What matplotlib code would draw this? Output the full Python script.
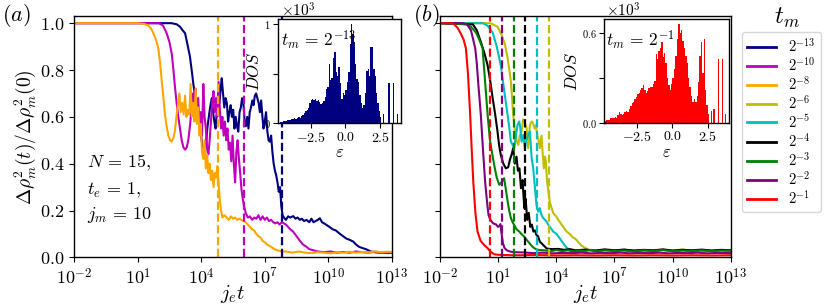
import numpy as np
import matplotlib
matplotlib.use("Agg")
import matplotlib.pyplot as plt
from matplotlib.lines import Line2D
from matplotlib.ticker import FixedLocator, FixedFormatter, NullLocator

plt.rcParams['mathtext.fontset'] = 'cm'
plt.rcParams['font.family'] = 'serif'
plt.rcParams['font.serif'] = ['cmr10', 'DejaVu Serif']
plt.rcParams['axes.formatter.use_mathtext'] = True
plt.rcParams['axes.linewidth'] = 1.0

# t_m = 2**e for every series, legend order
tm_exp = [-13, -10, -8, -6, -5, -4, -3, -2, -1]
colors = ['navy', 'm', 'orange', 'y', 'c', 'k', 'g', 'purple', 'r']

# ---- panel (a): log10(j_e t) and normalised variance ----
lt_13 = [-2.0, 2.6, 2.85, 3.0, 3.12, 3.24, 3.35, 3.47, 3.55, 3.63,
         3.71, 3.79, 3.86, 3.93, 4.0, 4.06, 4.12, 4.18, 4.24, 4.3,
         4.36, 4.42, 4.5, 4.56, 4.62, 4.68, 4.74, 4.8, 4.86, 4.92,
         4.97, 5.03, 5.09, 5.15, 5.21, 5.27, 5.33, 5.39, 5.45, 5.51,
         5.57, 5.63, 5.69, 5.75, 5.81, 5.87, 5.93, 5.99, 6.05, 6.11,
         6.17, 6.23, 6.29, 6.35, 6.41, 6.47, 6.53, 6.59, 6.65, 6.71,
         6.77, 6.83, 6.89, 6.94, 7.0, 7.06, 7.12, 7.18, 7.24, 7.3,
         7.36, 7.42, 7.48, 7.54, 7.6, 7.66, 7.72, 7.78, 7.84, 7.9,
         8.0, 8.1, 8.2, 8.34, 8.45, 8.55, 8.65, 8.75, 8.85, 8.97,
         9.1, 9.2, 9.3, 9.4, 9.5, 9.6, 9.7, 9.8, 9.92, 10.05,
         10.2, 10.35, 10.55, 10.7, 10.85, 11.0, 11.18, 11.3, 11.45, 11.6,
         11.8, 12.0, 12.2, 12.4, 12.6, 12.8, 13.0]
v_13 = [1.0, 1.0, 0.995, 0.985, 0.97, 0.957, 0.91, 0.857, 0.80, 0.74,
        0.69, 0.64, 0.60, 0.565, 0.52, 0.47, 0.44, 0.44, 0.50, 0.56,
        0.60, 0.64, 0.68, 0.62, 0.58, 0.55, 0.63, 0.70, 0.66, 0.72,
        0.765, 0.70, 0.64, 0.68, 0.66, 0.58, 0.62, 0.65, 0.60, 0.63,
        0.55, 0.60, 0.56, 0.537, 0.62, 0.64, 0.68, 0.66, 0.58, 0.56,
        0.60, 0.55, 0.62, 0.64, 0.67, 0.65, 0.69, 0.70, 0.68, 0.66,
        0.62, 0.67, 0.60, 0.55, 0.58, 0.62, 0.54, 0.50, 0.494, 0.52,
        0.45, 0.40, 0.37, 0.35, 0.32, 0.28, 0.30, 0.22, 0.18, 0.17,
        0.16, 0.175, 0.17, 0.176, 0.165, 0.17, 0.16, 0.165, 0.155, 0.16,
        0.15, 0.165, 0.15, 0.155, 0.16, 0.167, 0.15, 0.145, 0.138, 0.13,
        0.12, 0.115, 0.10, 0.09, 0.08, 0.075, 0.067, 0.055, 0.045, 0.04,
        0.034, 0.025, 0.022, 0.02, 0.02, 0.018, 0.02]

lt_10 = [-2.0, 2.0, 2.2, 2.37, 2.5, 2.61, 2.69, 2.76, 2.84, 2.92,
         3.0, 3.08, 3.16, 3.24, 3.32, 3.39, 3.47, 3.55, 3.62, 3.68,
         3.74, 3.8, 3.86, 3.92, 3.98, 4.04, 4.1, 4.16, 4.22, 4.28,
         4.34, 4.4, 4.46, 4.52, 4.58, 4.64, 4.7, 4.76, 4.82, 4.88,
         4.94, 5.0, 5.06, 5.12, 5.18, 5.24, 5.3, 5.36, 5.42, 5.48,
         5.54, 5.6, 5.66, 5.72, 5.78, 5.84, 5.9, 5.96, 6.02, 6.1,
         6.2, 6.3, 6.4, 6.5, 6.6, 6.7, 6.8, 6.9, 7.0, 7.1,
         7.2, 7.3, 7.4, 7.5, 7.6, 7.7, 7.8, 7.9, 8.0, 8.1,
         8.2, 8.34, 8.5, 8.66, 8.8, 8.97, 9.1, 9.3, 9.5, 9.8,
         10.1, 10.4, 10.7, 11.0, 11.3, 11.6, 11.9, 12.2, 12.5, 12.8,
         13.0]
v_10 = [1.0, 1.0, 0.99, 0.957, 0.92, 0.87, 0.80, 0.73, 0.66, 0.60,
        0.55, 0.50, 0.47, 0.46, 0.47, 0.50, 0.56, 0.64, 0.70, 0.66,
        0.72, 0.60, 0.68, 0.56, 0.62, 0.52, 0.74, 0.60, 0.55, 0.47,
        0.44, 0.50, 0.58, 0.66, 0.71, 0.62, 0.68, 0.60, 0.75, 0.63,
        0.55, 0.60, 0.52, 0.58, 0.50, 0.55, 0.46, 0.49, 0.41, 0.52,
        0.40, 0.32, 0.45, 0.50, 0.42, 0.36, 0.29, 0.25, 0.22, 0.19,
        0.17, 0.175, 0.16, 0.17, 0.165, 0.18, 0.16, 0.175, 0.16, 0.17,
        0.155, 0.16, 0.15, 0.145, 0.15, 0.14, 0.15, 0.145, 0.14, 0.13,
        0.12, 0.11, 0.09, 0.07, 0.055, 0.045, 0.035, 0.03, 0.025, 0.022,
        0.025, 0.02, 0.023, 0.02, 0.025, 0.022, 0.02, 0.024, 0.021, 0.02,
        0.022]

lt_8 = [-2.0, 1.0, 1.3, 1.5, 1.65, 1.8, 1.9, 1.98, 2.06, 2.14,
        2.22, 2.29, 2.37, 2.45, 2.53, 2.61, 2.69, 2.76, 2.83, 2.9,
        2.97, 3.03, 3.1, 3.17, 3.24, 3.3, 3.37, 3.44, 3.5, 3.56,
        3.62, 3.68, 3.74, 3.8, 3.86, 3.92, 3.98, 4.04, 4.1, 4.16,
        4.22, 4.28, 4.34, 4.4, 4.46, 4.52, 4.58, 4.64, 4.7, 4.76,
        4.82, 4.88, 4.94, 5.0, 5.1, 5.2, 5.3, 5.4, 5.5, 5.6,
        5.7, 5.8, 5.9, 6.0, 6.1, 6.2, 6.3, 6.4, 6.5, 6.6,
        6.7, 6.8, 6.9, 7.0, 7.1, 7.2, 7.3, 7.45, 7.6, 7.8,
        8.0, 8.3, 8.6, 8.9, 9.2, 9.5, 9.8, 10.1, 10.4, 10.7,
        11.0, 11.3, 11.6, 11.9, 12.2, 12.5, 12.8, 13.0]
v_8 = [1.0, 1.0, 0.997, 0.99, 0.975, 0.945, 0.92, 0.89, 0.83, 0.75,
       0.68, 0.61, 0.56, 0.52, 0.50, 0.495, 0.51, 0.54, 0.60, 0.65,
       0.70, 0.62, 0.66, 0.61, 0.69, 0.60, 0.63, 0.61, 0.74, 0.60,
       0.66, 0.58, 0.72, 0.57, 0.64, 0.52, 0.57, 0.45, 0.42, 0.50,
       0.38, 0.44, 0.36, 0.40, 0.33, 0.37, 0.30, 0.36, 0.34, 0.39,
       0.32, 0.24, 0.20, 0.17, 0.18, 0.17, 0.16, 0.175, 0.165, 0.17,
       0.16, 0.165, 0.16, 0.155, 0.15, 0.14, 0.13, 0.12, 0.115, 0.10,
       0.09, 0.085, 0.07, 0.065, 0.055, 0.05, 0.045, 0.035, 0.03, 0.025,
       0.025, 0.02, 0.025, 0.02, 0.018, 0.022, 0.02, 0.017, 0.022, 0.02,
       0.024, 0.02, 0.023, 0.021, 0.025, 0.022, 0.024, 0.023]

# ---- panel (b) ----
lt_6 = [-2.0, 0.6, 0.97, 1.18, 1.35, 1.49, 1.58, 1.66, 1.78, 1.87,
        1.95, 2.04, 2.12, 2.21, 2.29, 2.36, 2.47, 2.55, 2.64, 2.73,
        2.81, 2.88, 2.95, 3.02, 3.09, 3.15, 3.24, 3.3, 3.36, 3.42,
        3.46, 3.52, 3.58, 3.67, 3.76, 3.84, 3.93, 4.01, 4.1, 4.19,
        4.27, 4.36, 4.45, 4.53, 4.62, 4.7, 4.79, 4.87, 4.96, 5.05,
        5.13, 5.22, 5.3, 5.39, 5.5, 5.6, 5.73, 5.9, 6.2, 6.5,
        7.0, 7.5, 8.0, 8.5, 9.0, 9.5, 10.0, 10.5, 11.0, 11.5,
        12.0, 12.5, 13.0]
v_6 = [1.0, 1.0, 0.985, 0.95, 0.91, 0.85, 0.80, 0.75, 0.608, 0.54,
       0.50, 0.48, 0.52, 0.537, 0.59, 0.58, 0.551, 0.466, 0.565, 0.58,
       0.57, 0.55, 0.565, 0.52, 0.50, 0.466, 0.52, 0.44, 0.38, 0.43,
       0.41, 0.33, 0.29, 0.235, 0.21, 0.19, 0.18, 0.174, 0.16, 0.15,
       0.14, 0.13, 0.12, 0.11, 0.105, 0.10, 0.09, 0.085, 0.08, 0.074,
       0.065, 0.057, 0.05, 0.045, 0.04, 0.035, 0.031, 0.03, 0.028, 0.032,
       0.027, 0.031, 0.028, 0.03, 0.027, 0.032, 0.028, 0.034, 0.027, 0.03,
       0.028, 0.031, 0.029]

lt_5 = [-2.0, 0.2, 0.45, 0.72, 0.93, 1.14, 1.3, 1.49, 1.58, 1.66,
        1.75, 1.83, 1.92, 2.0, 2.09, 2.15, 2.21, 2.3, 2.38, 2.45,
        2.5, 2.57, 2.64, 2.73, 2.81, 2.9, 2.98, 3.07, 3.15, 3.24,
        3.33, 3.42, 3.5, 3.58, 3.67, 3.76, 3.84, 3.93, 4.01, 4.1,
        4.19, 4.27, 4.36, 4.45, 4.53, 4.62, 4.7, 4.87, 5.04, 5.3,
        5.6, 6.0, 6.5, 7.0, 7.5, 8.0, 8.5, 9.0, 9.5, 10.0,
        10.5, 11.0, 11.5, 12.0, 12.5, 13.0]
v_5 = [1.0, 1.0, 0.99, 0.96, 0.90, 0.82, 0.72, 0.608, 0.55, 0.494,
       0.48, 0.466, 0.52, 0.565, 0.58, 0.55, 0.494, 0.523, 0.466, 0.50,
       0.509, 0.53, 0.537, 0.423, 0.38, 0.295, 0.224, 0.195, 0.21, 0.18,
       0.167, 0.16, 0.152, 0.14, 0.13, 0.12, 0.11, 0.105, 0.10, 0.09,
       0.08, 0.07, 0.06, 0.05, 0.042, 0.036, 0.031, 0.027, 0.025, 0.028,
       0.032, 0.027, 0.031, 0.028, 0.033, 0.027, 0.03, 0.028, 0.032, 0.027,
       0.031, 0.028, 0.03, 0.027, 0.031, 0.029]

lt_4 = [-2.0, -0.3, -0.1, 0.11, 0.3, 0.46, 0.6, 0.72, 0.85, 0.97,
        1.05, 1.14, 1.27, 1.4, 1.52, 1.62, 1.7, 1.78, 1.86, 1.95,
        2.02, 2.1, 2.18, 2.26, 2.35, 2.42, 2.5, 2.58, 2.66, 2.74,
        2.82, 2.9, 2.98, 3.06, 3.15, 3.24, 3.33, 3.42, 3.5, 3.65,
        3.8, 4.1, 4.4, 4.7, 5.0, 5.5, 6.0, 6.5, 7.0, 7.5,
        8.0, 8.5, 9.0, 9.5, 10.0, 10.5, 11.0, 11.5, 12.0, 12.5,
        13.0]
v_4 = [1.0, 0.995, 0.97, 0.92, 0.87, 0.82, 0.75, 0.68, 0.61, 0.537,
       0.48, 0.437, 0.40, 0.38, 0.385, 0.42, 0.44, 0.466, 0.40, 0.43,
       0.37, 0.38, 0.295, 0.33, 0.21, 0.25, 0.16, 0.19, 0.13, 0.14,
       0.11, 0.115, 0.095, 0.09, 0.067, 0.06, 0.052, 0.045, 0.038, 0.036,
       0.035, 0.036, 0.032, 0.035, 0.03, 0.033, 0.029, 0.034, 0.03, 0.033,
       0.029, 0.032, 0.03, 0.034, 0.029, 0.032, 0.03, 0.033, 0.029, 0.032,
       0.03]

lt_3 = [-2.0, -0.66, -0.4, -0.14, 0.03, 0.2, 0.33, 0.46, 0.58, 0.7,
        0.8, 0.93, 1.06, 1.18, 1.31, 1.4, 1.49, 1.57, 1.66, 1.75,
        1.83, 1.95, 2.09, 2.22, 2.35, 2.47, 2.6, 2.72, 2.85, 3.0,
        3.15, 3.4, 3.7, 4.0, 4.3, 4.6, 4.9, 5.2, 5.5, 5.8,
        6.1, 6.5, 7.0, 7.5, 8.0, 8.5, 9.0, 9.5, 10.0, 10.5,
        11.0, 11.5, 12.0, 12.5, 13.0]
v_3 = [1.0, 0.995, 0.985, 0.96, 0.93, 0.893, 0.75, 0.608, 0.50, 0.44,
       0.394, 0.34, 0.31, 0.32, 0.338, 0.29, 0.24, 0.20, 0.167, 0.15,
       0.138, 0.12, 0.11, 0.098, 0.088, 0.075, 0.062, 0.05, 0.04, 0.033,
       0.031, 0.03, 0.026, 0.031, 0.027, 0.03, 0.025, 0.029, 0.027, 0.032,
       0.026, 0.03, 0.027, 0.029, 0.025, 0.03, 0.027, 0.031, 0.026, 0.029,
       0.027, 0.03, 0.026, 0.029, 0.028]

lt_2 = [-2.0, -0.8, -0.6, -0.4, -0.18, -0.1, -0.03, 0.04, 0.11, 0.22,
        0.33, 0.45, 0.51, 0.6, 0.75, 0.9, 1.0, 1.07, 1.12, 1.18,
        1.25, 1.33, 1.45, 1.6, 1.8, 2.3, 2.8, 3.3, 3.8, 4.3,
        4.8, 5.3, 5.8, 6.3, 6.8, 7.3, 7.8, 8.3, 8.8, 9.3,
        9.8, 10.3, 10.8, 11.3, 11.8, 12.3, 13.0]
v_2 = [1.0, 1.0, 0.995, 0.97, 0.893, 0.83, 0.75, 0.68, 0.608, 0.46,
       0.323, 0.22, 0.18, 0.16, 0.145, 0.14, 0.13, 0.135, 0.142, 0.10,
       0.06, 0.04, 0.03, 0.025, 0.022, 0.021, 0.018, 0.02, 0.017, 0.019,
       0.018, 0.02, 0.017, 0.019, 0.018, 0.02, 0.017, 0.019, 0.018, 0.02,
       0.017, 0.019, 0.018, 0.02, 0.017, 0.019, 0.018]

lt_1 = [-2.0, -1.4, -1.26, -1.09, -0.92, -0.78, -0.66, -0.55, -0.44, -0.36,
        -0.28, -0.17, -0.06, 0.1, 0.28, 0.45, 0.6, 0.8, 1.0, 1.3,
        1.7, 2.2, 3.0, 4.0, 5.0, 6.0, 7.0, 8.0, 9.0, 10.0,
        11.0, 12.0, 13.0]
v_1 = [1.0, 1.0, 0.995, 0.98, 0.955, 0.93, 0.893, 0.78, 0.608, 0.46,
       0.323, 0.19, 0.11, 0.07, 0.053, 0.04, 0.025, 0.013, 0.011, 0.01,
       0.009, 0.009, 0.01, 0.008, 0.009, 0.008, 0.009, 0.008, 0.009, 0.008,
       0.009, 0.008, 0.009]

# ---- insets: density of states, units of 10^3, bins of 0.1 from -4.8 ----
eps_edges = np.linspace(-4.8, 3.9, 88)
dos_13 = [0, .01, .01, .02, .02, .02, .03, .03, .03, .04,
          .04, .05, .04, .05, .06, .05, .07, .08, .10, .12,
          .13, .15, .20, .23, .24, .23, .24, .22, .23, .21,
          .19, .20, .22, .26, .34, .36, .60, .44, .46, .66,
          .72, .52, .48, .57, .40, .24, .30, .28, .33, .42,
          .52, .80, 1.0, .90, .82, .60, .45, .42, .28, .20,
          .15, .18, .30, .53, .55, .48, .77, .77, .55, .48,
          .30, .20, .12, .06, 0, .09, 0, 0, 0, .41,
          0, 0, .41, 0, 0, .09, 0]
dos_1 = [.01, .02, .02, .02, .03, .03, .03, .04, .03, .05,
         .07, .06, .05, .06, .07, .08, .07, .09, .11, .13,
         .14, .16, .17, .19, .20, .22, .23, .25, .22, .20,
         .21, .23, .24, .24, .26, .28, .46, .43, .48, .50,
         .54, .44, .47, .40, .30, .25, .22, .26, .30, .36,
         .45, .56, .66, .60, .62, .55, .50, .45, .40, .30,
         .24, .18, .14, .16, .14, .18, .27, .45, .54, .33,
         .56, .22, .12, .06, 0, .08, 0, .09, 0, 0,
         .43, 0, 0, .43, 0, .06, 0]

series_a = [(lt_13, v_13, 0), (lt_10, v_10, 1), (lt_8, v_8, 2)]
series_b = [(lt_6, v_6, 3), (lt_5, v_5, 4), (lt_4, v_4, 5),
            (lt_3, v_3, 6), (lt_2, v_2, 7), (lt_1, v_1, 8)]

fig = plt.figure(figsize=(8.3, 3.06), dpi=100)
ax1 = fig.add_axes([0.0892, 0.159, 0.383, 0.789])
ax2 = fig.add_axes([0.530, 0.159, 0.3506, 0.789])

xt = [1e-2, 1e1, 1e4, 1e7, 1e10, 1e13]
xtl = ['$10^{-2}$', '$10^{1}$', '$10^{4}$', '$10^{7}$', '$10^{10}$', '$10^{13}$']
yt = [0.0, 0.2, 0.4, 0.6, 0.8, 1.0]

for ax, series in [(ax1, series_a), (ax2, series_b)]:
    for lt, v, i in series:
        ax.plot(10.0 ** np.array(lt), v, color=colors[i], lw=1.5)
    for lt, v, i in series:
        ax.axvline(2.0 ** (-2 * tm_exp[i]), color=colors[i], lw=1.6, ls='--')
    ax.set_xscale('log')
    ax.set_xlim(1e-2, 1e13)
    ax.set_ylim(0, 1.031)
    ax.xaxis.set_major_locator(FixedLocator(xt))
    ax.xaxis.set_major_formatter(FixedFormatter(xtl))
    ax.xaxis.set_minor_locator(NullLocator())
    ax.yaxis.set_major_locator(FixedLocator(yt))
    ax.tick_params(labelsize=13)
    ax.set_xlabel('$j_e t$', fontsize=15, labelpad=-3)

ax1.yaxis.set_major_formatter(FixedFormatter(['$0.0$', '$0.2$', '$0.4$', '$0.6$', '$0.8$', '$1.0$']))
ax2.yaxis.set_major_formatter(FixedFormatter([''] * 6))
ax1.set_ylabel(r'$\Delta\rho_m^2(t)/\Delta\rho_m^2(0)$', fontsize=14, labelpad=1)

ax1.text(0.041, 0.39, r'$N\,=\,15,$', transform=ax1.transAxes, fontsize=13, va='center')
ax1.text(0.041, 0.279, r'$t_e\,=\,1,$', transform=ax1.transAxes, fontsize=13, va='center')
ax1.text(0.041, 0.175, r'$j_m\,=\,10$', transform=ax1.transAxes, fontsize=13, va='center')

fig.text(0.002, 0.948, '$(a)$', fontsize=16, va='center', ha='left')
fig.text(0.497, 0.948, '$(b)$', fontsize=16, va='center', ha='left')

# insets
ins1 = fig.add_axes([0.335, 0.598, 0.148, 0.339])
ins2 = fig.add_axes([0.7277, 0.599, 0.1506, 0.338])
for ins, dos, i, yt_ins, ytl_ins, ttl in [
        (ins1, dos_13, 0, [0, 0.5, 1.0], ['$0$', '', '$1$'], r'$t_m\,=\,2^{-13}$'),
        (ins2, dos_1, 8, [0, 0.3, 0.6], ['$0.0$', '', '$0.6$'], r'$t_m\,=\,2^{-1}$')]:
    ins.stairs(dos, eps_edges, fill=True, color=colors[i])
    ins.set_xlim(-4.85, 4.0)
    ins.set_ylim(0, max(dos) * 1.05)
    ins.xaxis.set_major_locator(FixedLocator([-2.5, 0.0, 2.5]))
    ins.xaxis.set_major_formatter(FixedFormatter(['$-2.5$', '$0.0$', '$2.5$']))
    ins.yaxis.set_major_locator(FixedLocator(yt_ins))
    ins.yaxis.set_major_formatter(FixedFormatter(ytl_ins))
    ins.tick_params(axis='x', labelsize=10, pad=2)
    ins.tick_params(axis='y', labelsize=7.5, pad=2)
    ins.set_xlabel(r'$\varepsilon$', fontsize=12, labelpad=0)
    ins.set_ylabel('$DOS$', fontsize=12, labelpad=1)
    ins.text(0.02, 0.80, ttl, transform=ins.transAxes, fontsize=12.5, va='center')
    ins.text(0.02, 1.0, r'$\times 10^{3}$', transform=ins.transAxes, fontsize=11,
             va='bottom', ha='left')

handles = [Line2D([], [], color=c, lw=2) for c in colors]
labels = ['$2^{%d}$' % e for e in tm_exp]
fig.legend(handles, labels, loc='upper left', bbox_to_anchor=(742 / 830, 1 - 32 / 306),
           bbox_transform=fig.transFigure, borderaxespad=0, fontsize=10.5,
           handlelength=2.0, labelspacing=0.08, handletextpad=0.8, borderpad=0.35)
fig.text(0.948, 0.94, '$t_m$', fontsize=18, ha='center', va='center')

fig.savefig('out.png', dpi=100)
